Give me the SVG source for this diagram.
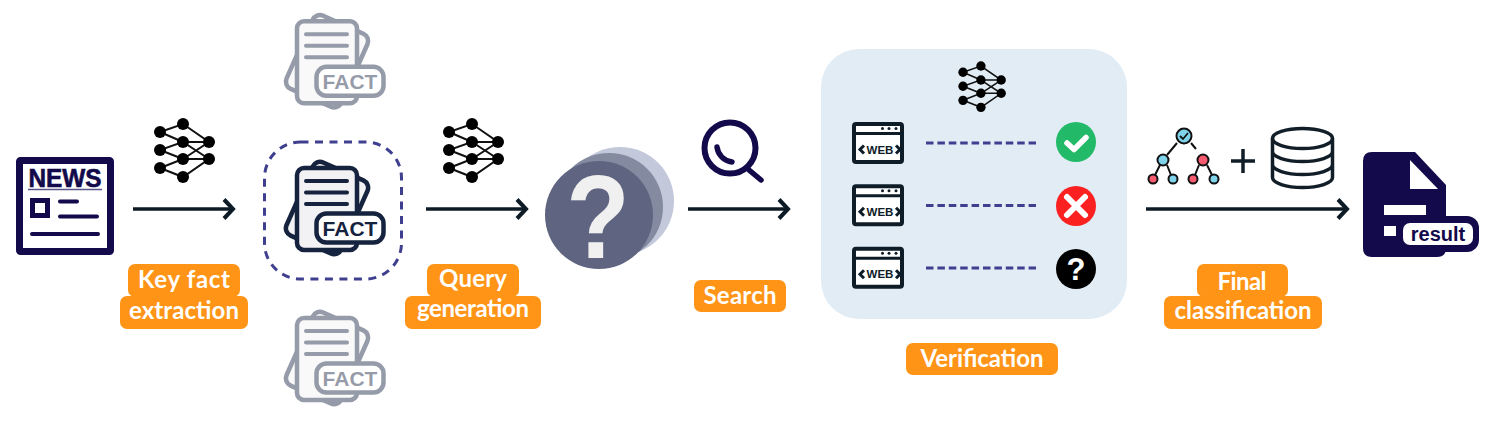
<svg xmlns="http://www.w3.org/2000/svg" width="1495" height="421" viewBox="0 0 1495 421">
<style>
.tag{fill:#ff9416}
.lab{font-family:"Lato","Noto Sans",sans-serif;font-weight:700;font-size:24px;fill:#fff;text-anchor:middle}
.arrow{fill:none;stroke:#0d1b26;stroke-width:3.5;marker-end:url(#chev)}
.dash{fill:none;stroke:#3f3f8f;stroke-width:3;stroke-dasharray:7.5 3.9}
.nnl{stroke:#111;stroke-width:2;fill:none}
.pg{fill:#f2f2f4;stroke:#16233f;stroke-width:4.5}
.fl{stroke:#16233f;stroke-width:4;stroke-linecap:round;fill:none}
.ft{font-family:"Liberation Sans",Arial,sans-serif;font-weight:700;font-size:21px;fill:#16233f;text-anchor:middle}
.web{fill:#fff;stroke:#0e1c28;stroke-width:4}
.wl{fill:none;stroke:#0e1c28;stroke-width:3}
.wt{font-family:"Liberation Sans",Arial,sans-serif;font-weight:700;font-size:11.5px;fill:#0e1c28;text-anchor:middle}
.nv{fill:none;stroke:#120a4a;stroke-linecap:round}
.tl{fill:none;stroke:#111;stroke-width:2}
.tc{stroke:#111;stroke-width:2}
</style>
<defs>
<marker id="chev" markerUnits="userSpaceOnUse" markerWidth="18" markerHeight="24" refX="12" refY="12" orient="auto">
<path d="M2 2.500L11 12L2 21.500" fill="none" stroke="#0d1b26" stroke-width="4"/>
</marker>
<g id="nn">
<path class="nnl" d="M160 132L183 124L209 142L183 159L160 150L183 142L160 132M183 142H209M183 159H209M160 168L183 159M160 168L183 177L209 159L183 142M160 150L183 159M209 142L183 159"/>
<g fill="#000"><circle cx="160" cy="132" r="6"/><circle cx="183" cy="124" r="6"/><circle cx="160" cy="150" r="6"/><circle cx="183" cy="142" r="6"/><circle cx="209" cy="142" r="6"/><circle cx="160" cy="168" r="6"/><circle cx="183" cy="159" r="6"/><circle cx="209" cy="159" r="6"/><circle cx="183" cy="177" r="6"/></g>
</g>
<g id="factshape">
<rect class="pg" x="297" y="168" width="60" height="80" rx="8" transform="rotate(24 327 208)"/>
<rect class="pg" x="297" y="168" width="60" height="82" rx="7"/>
<path class="fl" d="M306 181H347M306 192.500H347M306 204H347"/>
<rect x="316.500" y="213.500" width="67" height="29" rx="10" fill="#fff" stroke="#16233f" stroke-width="4.500"/>
</g>
<g id="webshape">
<rect class="web" x="854" y="124" width="48" height="38" rx="2"/>
<path class="wl" d="M854 133.500H902M864 145.500L860 149.500L864 153.500M896 145.500L900 149.500L896 153.500"/>
<circle cx="882.500" cy="128.500" r="1.500" fill="#0e1c28"/><circle cx="889" cy="128.500" r="1.500" fill="#0e1c28"/><circle cx="896" cy="128.500" r="1.500" fill="#0e1c28"/>
</g>
</defs>

<rect id="verification-panel" x="821" y="49" width="306" height="270" rx="38" fill="#e1ecf5"/>

<g id="connectors">
<path class="arrow" d="M133 209H234"/>
<path class="arrow" d="M426 209H527"/>
<path class="arrow" d="M688 209H789"/>
<path class="arrow" d="M1146 209H1348"/>
<path class="dash" d="M926 143H1036"/>
<path class="dash" d="M926 205.500H1036"/>
<path class="dash" d="M926 268H1036"/>
</g>

<g id="news">
<rect x="19.500" y="160.500" width="91" height="91" fill="#fff" stroke="#120a4a" stroke-width="7" rx="1"/>
<text x="65" y="187" font-family="Liberation Sans,Arial,sans-serif" font-weight="700" font-size="25" fill="#120a4a" stroke="#120a4a" stroke-width=".6" text-anchor="middle" textLength="73" lengthAdjust="spacingAndGlyphs">NEWS</text>
<path d="M28 189.500H102" stroke="#5a5488" stroke-width="1.500"/>
<rect x="32.500" y="200.500" width="15" height="15" fill="none" stroke="#120a4a" stroke-width="5"/>
<path class="nv" stroke-width="4" d="M60 201.500H77M60 216.500H97M32 234H98"/>
</g>

<use id="nn1" href="#nn"/>
<use id="nn2" href="#nn" x="289"/>

<g id="fact-top" opacity=".45" transform="translate(0 -146.700)">
<use href="#factshape"/><text class="ft" x="350" y="235.500">FACT</text>
</g>
<g id="fact-main">
<rect x="264.500" y="142" width="137" height="137" rx="36" fill="none" stroke="#3f3f8f" stroke-width="3" stroke-dasharray="8 6.500"/>
<use href="#factshape"/><text class="ft" x="350" y="235.500">FACT</text>
</g>
<g id="fact-bottom" opacity=".45" transform="translate(0 150)">
<use href="#factshape"/><text class="ft" x="350" y="235.500">FACT</text>
</g>

<g id="queries">
<circle cx="620" cy="201" r="54" fill="#c3c9da"/>
<circle cx="609" cy="207" r="54" fill="#848aa0"/>
<circle cx="599" cy="215" r="54" fill="#5f6480"/>
<text transform="translate(598 258) scale(.88 1)" font-family="Liberation Sans,Arial,sans-serif" font-weight="700" font-size="118" fill="#f0f0f0" text-anchor="middle">?</text>
</g>

<g id="search">
<circle class="nv" cx="730" cy="148" r="25.500" stroke-width="6"/>
<path class="nv" stroke-width="5.500" d="M717 147C718 155 724 161 732 162M749 170L761 180"/>
</g>

<g id="verification">
<use href="#nn" transform="translate(963 66) scale(.78) translate(-160 -124)"/>
<g id="web1"><use href="#webshape"/><text class="wt" x="880" y="153.500">WEB</text></g>
<g id="web2"><use href="#webshape" y="62.300"/><text class="wt" x="880" y="215.800">WEB</text></g>
<g id="web3"><use href="#webshape" y="124.700"/><text class="wt" x="880" y="278.200">WEB</text></g>
<g id="ok"><circle cx="1076" cy="142" r="20" fill="#22b968"/><path d="M1067 143L1074 149.500L1086 137.500" fill="none" stroke="#fff" stroke-width="5.500" stroke-linecap="round" stroke-linejoin="round"/></g>
<g id="no"><circle cx="1076" cy="206" r="20" fill="#fb2121"/><path d="M1067 197L1085 215M1085 197L1067 215" fill="none" stroke="#fff" stroke-width="6" stroke-linecap="round"/></g>
<g id="unknown"><circle cx="1076" cy="269" r="20" fill="#000"/><text x="1076" y="280" font-family="Liberation Sans,Arial,sans-serif" font-weight="700" font-size="31" fill="#fff" text-anchor="middle">?</text></g>
</g>

<g id="tree">
<path class="tl" d="M1177 143L1167 155M1191 143L1196 149M1160 165L1155 175M1167 165L1171 175M1199 165L1195 175M1207 165L1212 175"/>
<circle class="tc" cx="1184" cy="136" r="7.500" fill="#7fd4ec"/>
<path d="M1180 136L1183 139L1188 133" fill="none" stroke="#111" stroke-width="1.800"/>
<circle class="tc" cx="1163" cy="160" r="5.500" fill="#7fd4ec"/>
<circle class="tc" cx="1203" cy="160" r="5.500" fill="#f85a70"/>
<circle class="tc" cx="1153" cy="179" r="4.500" fill="#f85a70"/>
<circle class="tc" cx="1173" cy="179" r="4.500" fill="#7fd4ec"/>
<circle class="tc" cx="1193" cy="179" r="4.500" fill="#f85a70"/>
<circle class="tc" cx="1214" cy="179" r="4.500" fill="#7fd4ec"/>
</g>
<path id="plus" d="M1231 161H1255M1243 149V173" stroke="#111e28" stroke-width="3.500" fill="none"/>
<g id="database" fill="none" stroke="#111e28" stroke-width="3.500">
<ellipse cx="1302.500" cy="138.500" rx="30" ry="10"/>
<path d="M1272.500 138.500V177.500C1272.500 183 1286 187.500 1302.500 187.500S1332.500 183 1332.500 177.500V138.500M1272.500 151.500C1272.500 157 1286 161.500 1302.500 161.500S1332.500 157 1332.500 151.500M1272.500 164.500C1272.500 170 1286 174.500 1302.500 174.500S1332.500 170 1332.500 164.500"/>
</g>

<g id="result">
<path d="M1372 152H1415L1446 185V248Q1446 257 1437 257H1372Q1363 257 1363 248V161Q1363 152 1372 152Z" fill="#120a4a"/>
<path d="M1410 160V189H1438Z" fill="#fff"/>
<rect x="1384" y="205" width="42" height="10" fill="#fff"/>
<rect x="1384" y="226" width="12" height="10" fill="#fff"/>
<rect x="1398" y="216" width="81" height="36" rx="12" fill="#120a4a"/>
<rect x="1403" y="223" width="70" height="22" rx="7" fill="#fff"/>
<text x="1438" y="241" font-family="Liberation Sans,Arial,sans-serif" font-weight="700" font-size="20" fill="#120a4a" text-anchor="middle">result</text>
</g>

<g id="label-key-fact">
<rect class="tag" x="128" y="264" width="112" height="33" rx="7"/><rect class="tag" x="120" y="296" width="128" height="33" rx="7"/>
<text class="lab" x="184" y="288" textLength="92">Key fact</text><text class="lab" x="184" y="319" textLength="110">extraction</text>
</g>
<g id="label-query">
<rect class="tag" x="427" y="264" width="92" height="33" rx="7"/><rect class="tag" x="405" y="296" width="136" height="33" rx="7"/>
<text class="lab" x="473" y="287" textLength="68">Query</text><text class="lab" x="473" y="317" textLength="112">generation</text>
</g>
<g id="label-search">
<rect class="tag" x="694" y="280" width="92" height="32" rx="7"/>
<text class="lab" x="740" y="304" textLength="73">Search</text>
</g>
<g id="label-verification">
<rect class="tag" x="906" y="343" width="152" height="32" rx="7"/>
<text class="lab" x="982" y="367" textLength="123">Verification</text>
</g>
<g id="label-final">
<rect class="tag" x="1197" y="264" width="91" height="33" rx="7"/><rect class="tag" x="1164" y="296" width="158" height="33" rx="7"/>
<text class="lab" x="1242" y="290" textLength="49">Final</text><text class="lab" x="1243" y="319" textLength="137">classification</text>
</g>
</svg>
